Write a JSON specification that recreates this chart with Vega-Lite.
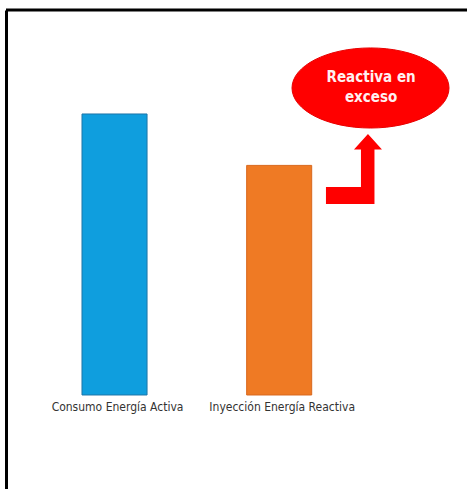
{
  "$schema": "https://vega.github.io/schema/vega-lite/v6.json",
  "width": 461,
  "height": 479,
  "autosize": {"type": "none"},
  "padding": {"left": 6, "top": 10, "right": 0, "bottom": 0},
  "background": "white",
  "config": {
    "view": {"stroke": null},
    "axisY": {"domainColor": "#000000", "domainWidth": 3, "labels": false, "ticks": false, "grid": false, "title": null},
    "axisX": {"domain": false, "ticks": false, "tickSize": 0, "grid": false, "title": null}
  },
  "resolve": {"scale": {"x": "independent"}, "axis": {"x": "independent"}},
  "layer": [
    {
      "data": {"values": [
        {"serie": "Consumo Energía Activa", "valor": 100},
        {"serie": "Inyección Energía Reactiva", "valor": 81.7}
      ]},
      "mark": {"type": "bar", "strokeWidth": 1},
      "encoding": {
        "x": {"field": "serie", "type": "nominal", "sort": null,
              "scale": {"range": [76, 305.7], "paddingInner": 0.605, "paddingOuter": 0},
              "axis": {"orient": "bottom", "offset": -94, "labelPadding": 6, "labelBaseline": "top", "labelAngle": 0, "labelOffset": 3,
                       "labelFont": "DejaVu Sans Condensed", "labelFontSize": 12, "labelColor": "#333333", "labelLimit": 300}},
        "y": {"field": "valor", "type": "quantitative", "scale": {"domain": [-33.45, 137], "nice": false, "zero": false}},
        "color": {"field": "serie", "type": "nominal", "legend": null,
                  "scale": {"domain": ["Consumo Energía Activa", "Inyección Energía Reactiva"], "range": ["#0f9ede", "#ef7a24"]}},
        "stroke": {"field": "serie", "type": "nominal", "legend": null,
                  "scale": {"domain": ["Consumo Energía Activa", "Inyección Energía Reactiva"], "range": ["#1f76a8", "#d8681e"]}}
      }
    },
    {
      "data": {"values": [{}]},
      "mark": {"type": "rule", "strokeWidth": 3, "color": "#000000"},
      "encoding": {
        "y": {"datum": 137, "type": "quantitative", "scale": {"domain": [-33.45, 137], "nice": false, "zero": false}}
      }
    },
    {
      "data": {"values": [{}]},
      "mark": {"type": "point", "shape": "M -1 0 A 1 0.51 0 1 0 1 0 A 1 0.51 0 1 0 -1 0 Z", "size": 24649, "filled": true, "color": "#ff0000", "opacity": 1, "stroke": "#e80000", "strokeWidth": 1},
      "encoding": {
        "x": {"datum": 79.07, "type": "quantitative", "scale": {"domain": [0, 100]}, "axis": null},
        "y": {"datum": 109.25, "type": "quantitative", "scale": {"domain": [-33.45, 137], "nice": false, "zero": false}}
      }
    },
    {
      "data": {"values": [{}]},
      "mark": {"type": "point", "shape": "M 0.371 -1 L 0.771 -0.557 L 0.557 -0.557 L 0.557 1 L -0.829 1 L -0.829 0.514 L 0.171 0.514 L 0.171 -0.557 L -0.029 -0.557 Z", "size": 4900, "filled": true, "color": "#ff0000", "opacity": 1, "strokeWidth": 0},
      "encoding": {
        "x": {"datum": 75.7, "type": "quantitative", "scale": {"domain": [0, 100]}, "axis": null},
        "y": {"datum": 80.43, "type": "quantitative", "scale": {"domain": [-33.45, 137], "nice": false, "zero": false}}
      }
    },
    {
      "data": {"values": [{}]},
      "mark": {"type": "text", "text": ["Reactiva en", "exceso"], "font": "DejaVu Sans Condensed", "fontWeight": "bold", "fontSize": 15, "lineHeight": 20, "align": "center", "baseline": "alphabetic", "color": "#fff0f0"},
      "encoding": {
        "x": {"datum": 79.2, "type": "quantitative", "scale": {"domain": [0, 100]}, "axis": null},
        "y": {"datum": 111.4, "type": "quantitative", "scale": {"domain": [-33.45, 137], "nice": false, "zero": false}}
      }
    }
  ]
}
